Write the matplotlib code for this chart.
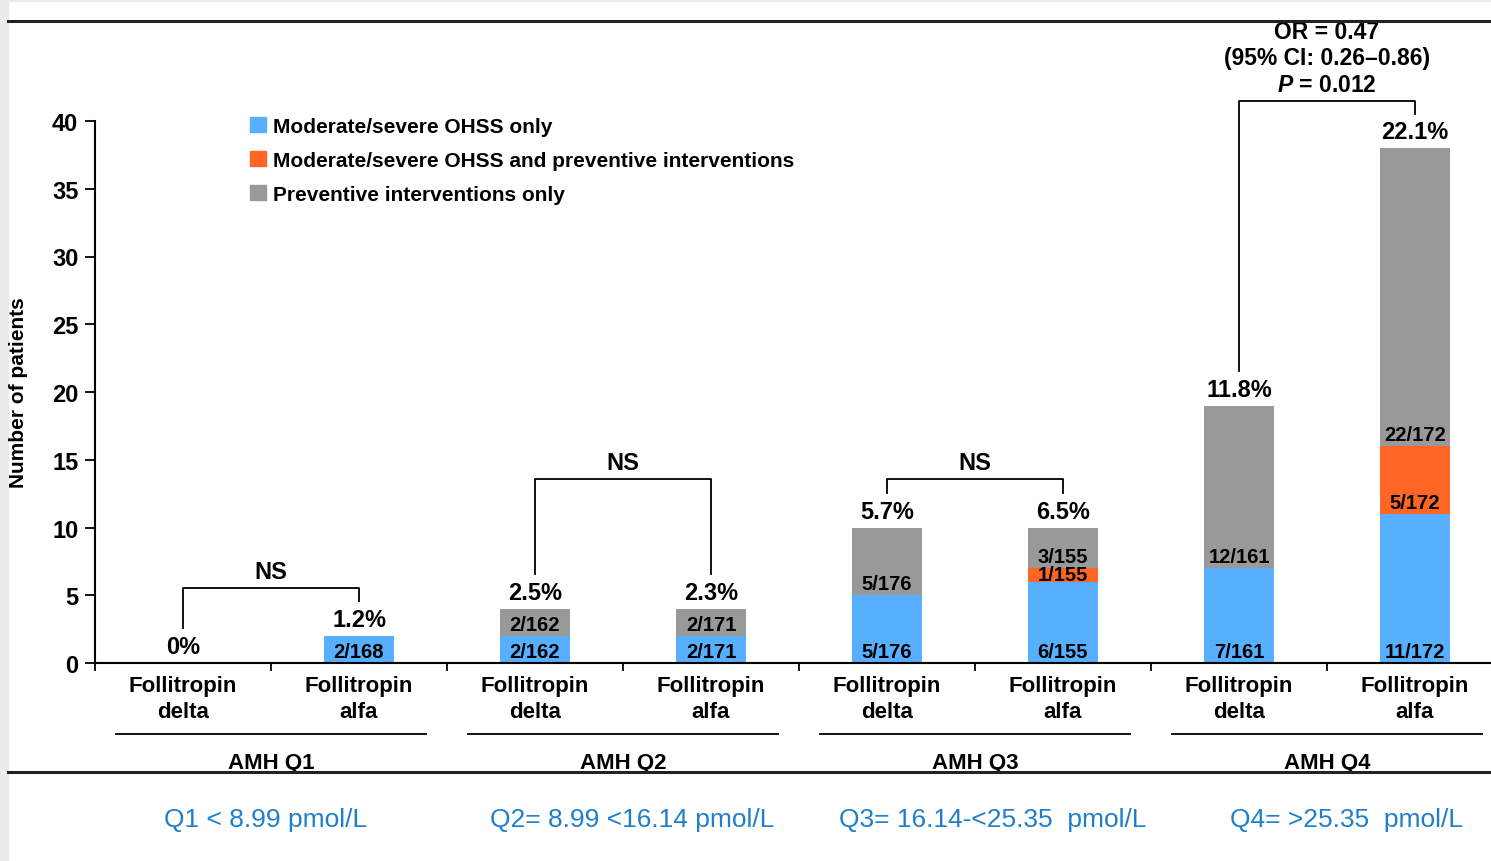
import matplotlib
matplotlib.use("Agg")
import matplotlib.pyplot as plt
from matplotlib.lines import Line2D
from matplotlib.patches import Patch, Rectangle
import numpy as np

plt.rcParams['font.family'] = ['Liberation Sans', 'DejaVu Sans']
plt.rcParams['font.weight'] = 'bold'
plt.rcParams['mathtext.fontset'] = 'custom'
plt.rcParams['mathtext.it'] = 'Liberation Sans:bold:italic'
plt.rcParams['mathtext.rm'] = 'Liberation Sans:bold'

# Patients per arm, in the order Q1 delta, Q1 alfa, Q2 delta, ... Q4 alfa
ohss_only = [0, 2, 2, 2, 5, 6, 7, 11]
ohss_and_prev = [0, 0, 0, 0, 0, 1, 0, 5]
prev_only = [0, 0, 2, 2, 5, 3, 12, 22]
n_arm = [0, 168, 162, 171, 176, 155, 161, 172]
pct_labels = ["0%", "1.2%", "2.5%", "2.3%", "5.7%", "6.5%", "11.8%", "22.1%"]

arm_labels = ["Follitropin\ndelta", "Follitropin\nalfa"] * 4
group_labels = ["AMH Q1", "AMH Q2", "AMH Q3", "AMH Q4"]
range_labels = ["Q1 < 8.99 pmol/L", "Q2= 8.99 <16.14 pmol/L",
                "Q3= 16.14-<25.35  pmol/L", "Q4= >25.35  pmol/L"]
compare_labels = ["NS", "NS", "NS", None]
or_text = ["OR = 0.47", "(95% CI: 0.26\u20130.86)", r"$P$ = 0.012"]

series_names = ["Moderate/severe OHSS only",
                "Moderate/severe OHSS and preventive interventions",
                "Preventive interventions only"]
colors = ["#56b0ff", "#ff6524", "#999999"]

# bracket heights (layout)
bracket_y = [5.55, 13.6, 13.6, 41.5]
range_shift = [-0.03, 0.05, 0.1, 0.11]

W, H = 1491, 862
fig = plt.figure(figsize=(W / 100, H / 100), dpi=100)
fig.patch.set_facecolor("white")
fig.add_artist(Rectangle((0, 0), 8 / W, 1, transform=fig.transFigure,
                         color="#ebebeb", zorder=0))
fig.add_artist(Rectangle((0, 1 - 2 / H), 1, 2 / H, transform=fig.transFigure,
                         color="#ebebeb", zorder=0))

ax = fig.add_axes([95 / W, (H - 664) / H, (W - 95) / W, 542 / H])
x = np.arange(len(ohss_only))
width = 0.4
segments = [ohss_only, ohss_and_prev, prev_only]
bottom = np.zeros(len(x))
for vals, col, name in zip(segments, colors, series_names):
    vals = np.array(vals, dtype=float)
    ax.bar(x, vals, width, bottom=bottom, color=col, label=name, zorder=2)
    for xi, v, b, n in zip(x, vals, bottom, n_arm):
        if v > 0:
            ax.text(xi, b + min(0.85, v / 2), f"{int(v)}/{n}", ha="center",
                    va="center", fontsize=14.5, fontweight="bold", zorder=3)
    bottom += vals

totals = bottom
for xi, t, lab in zip(x, totals, pct_labels):
    ax.text(xi, t + 1.2, lab, ha="center", va="center", fontsize=17,
            fontweight="bold", clip_on=False)

# comparison brackets between the two arms of each quartile
for g, by in enumerate(bracket_y):
    x0, x1 = 2 * g, 2 * g + 1
    ax.plot([x0, x0, x1, x1], [totals[x0] + 2.55, by, by, totals[x1] + 2.55],
            color="black", lw=1.3, clip_on=False)
    if compare_labels[g]:
        ax.text(g * 2 + 0.5, by + 1.2, compare_labels[g], ha="center",
                va="center", fontsize=17, fontweight="bold", clip_on=False)

for i, line in enumerate(or_text[::-1]):
    ax.text(6.5, bracket_y[3] + 1.2 + i * 1.95, line, ha="center", va="center",
            fontsize=16.5, fontweight="bold", clip_on=False)

ax.set_xlim(-0.5, -0.5 + (W - 95) / 176)
ax.set_ylim(0, 40)
ax.set_yticks(np.arange(0, 41, 5))
ax.set_xticks(np.arange(-0.5, 7, 1))
ax.set_xticklabels([])
ax.set_xticks(x, minor=True)
ax.set_xticklabels(arm_labels, minor=True, fontsize=16, fontweight="bold",
                   linespacing=1.3)
ax.tick_params(axis="x", which="minor", length=0, pad=9)
ax.tick_params(axis="x", which="major", length=6, width=1.3, direction="out")
ax.tick_params(axis="y", length=7, width=1.3, pad=5, labelsize=17)
for lab in ax.get_yticklabels():
    lab.set_fontweight("bold")
for side in ["top", "right"]:
    ax.spines[side].set_visible(False)
for side in ["left", "bottom"]:
    ax.spines[side].set_linewidth(1.5)

xt = ax.get_xaxis_transform()
for g, name in enumerate(group_labels):
    ax.plot([2 * g - 0.38, 2 * g + 1.38], [-0.131, -0.131], color="black",
            lw=1.3, transform=xt, clip_on=False)
    ax.text(2 * g + 0.5, -0.184, name, transform=xt, ha="center", va="center",
            fontsize=16, fontweight="bold")
    ax.text(2 * g + 0.5 + range_shift[g], -0.288, range_labels[g], transform=xt,
            ha="center", va="center", fontsize=19, fontweight="normal",
            color="#1f7fcc")

fig.text(19 / W, 1 - 393 / H, "Number of patients", rotation=90, ha="center",
         va="center", fontsize=15, fontweight="bold")

fig.add_artist(Line2D([8 / W, 1], [1 - 22 / H] * 2, color="#222222", lw=2.2))
fig.add_artist(Line2D([8 / W, 1], [1 - 773 / H] * 2, color="#222222", lw=2.2))

handles = [Patch(color=c) for c in colors]
ax.legend(handles, series_names, loc="upper left",
          bbox_to_anchor=(250 / W, 1 - 118 / H), bbox_transform=fig.transFigure,
          frameon=False, borderpad=0, borderaxespad=0, handlelength=0.75,
          handleheight=0.75, handletextpad=0.35, labelspacing=0.72,
          prop={"size": 15, "weight": "bold"})

fig.savefig("out.png", dpi=100)
